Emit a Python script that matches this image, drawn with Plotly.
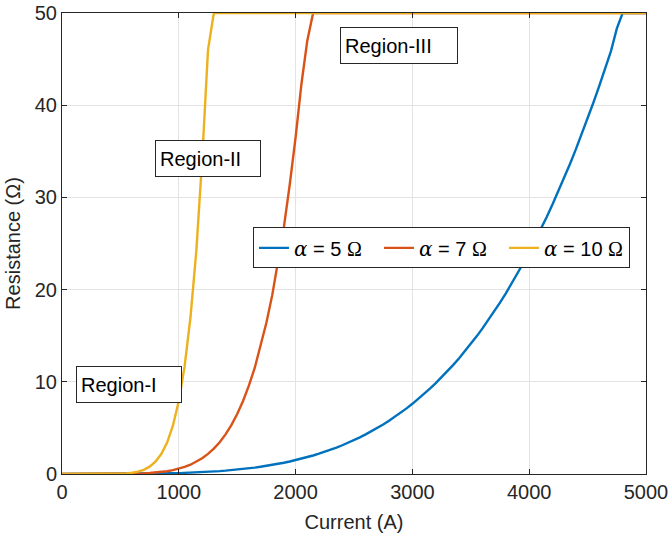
import plotly.graph_objects as go

# Current samples (A), every 50 A from 0 to 5000
current = list(range(0, 5001, 50))

# Resistance (Ohm), one value per current sample
r_alpha5 = [
    0, 0, 0, 0, 0.0002, 0.0004, 0.0008, 0.0014, 0.0024, 0.0039,
    0.0059, 0.0086, 0.0122, 0.0168, 0.0226, 0.0297, 0.0385, 0.0491, 0.0617, 0.0766,
    0.094, 0.114, 0.138, 0.164, 0.195, 0.230, 0.268, 0.312, 0.361, 0.416,
    0.476, 0.543, 0.616, 0.697, 0.785, 0.882, 0.987, 1.101, 1.225, 1.359,
    1.504, 1.660, 1.828, 2.009, 2.202, 2.409, 2.631, 2.867, 3.119, 3.387,
    3.672, 3.975, 4.295, 4.635, 4.995, 5.376, 5.778, 6.202, 6.649, 7.118,
    7.614, 8.134, 8.681, 9.255, 9.857, 10.488, 11.147, 11.838, 12.561, 13.317,
    14.106, 14.930, 15.789, 16.683, 17.616, 18.588, 19.600, 20.653, 21.747, 22.885,
    24.062, 25.289, 26.562, 27.882, 29.251, 30.669, 32.140, 33.655, 35.231, 36.861,
    38.547, 40.290, 42.090, 43.952, 45.867, 48.3, 50, 50, 50, 50,
    50]
r_alpha7 = [
    0, 0, 0, 0, 0, 0.0001, 0.0004, 0.0010, 0.0024, 0.0048,
    0.0089, 0.0159, 0.0266, 0.0432, 0.0671, 0.1016, 0.150, 0.215, 0.303, 0.419,
    0.57, 0.765, 1.01, 1.32, 1.70, 2.18, 2.75, 3.45, 4.30, 5.30,
    6.50, 7.92, 9.58, 11.5, 13.8, 16.4, 19.4, 22.9, 26.8, 31.4,
    36.5, 42.3, 47.0, 50, 50, 50, 50, 50, 50, 50,
    50, 50, 50, 50, 50, 50, 50, 50, 50, 50,
    50, 50, 50, 50, 50, 50, 50, 50, 50, 50,
    50, 50, 50, 50, 50, 50, 50, 50, 50, 50,
    50, 50, 50, 50, 50, 50, 50, 50, 50, 50,
    50, 50, 50, 50, 50, 50, 50, 50, 50, 50,
    50]
r_alpha10 = [
    0, 0, 0, 0, 0, 0.0001, 0.0005, 0.0018, 0.0052, 0.0133,
    0.031, 0.0664, 0.133, 0.253, 0.457, 0.794, 1.33, 2.16, 3.41, 5.26,
    7.92, 11.7, 17.0, 24.2, 34.1, 46.0, 50, 50, 50, 50,
    50, 50, 50, 50, 50, 50, 50, 50, 50, 50,
    50, 50, 50, 50, 50, 50, 50, 50, 50, 50,
    50, 50, 50, 50, 50, 50, 50, 50, 50, 50,
    50, 50, 50, 50, 50, 50, 50, 50, 50, 50,
    50, 50, 50, 50, 50, 50, 50, 50, 50, 50,
    50, 50, 50, 50, 50, 50, 50, 50, 50, 50,
    50, 50, 50, 50, 50, 50, 50, 50, 50, 50,
    50]

series_names = ["5", "7", "10"]
series_vals = [r_alpha5, r_alpha7, r_alpha10]
colors = ["#0072BD", "#D95319", "#EDB120"]

region_labels = ["Region-I", "Region-II", "Region-III"]
region_x = [575, 1249, 2888]
region_y = [9.73, 34.2, 46.5]

FONT = "Liberation Sans, Arial, Helvetica, sans-serif"
AX = "#262626"
FS = 20

fig = go.Figure()
for name, vals, col in zip(series_names, series_vals, colors):
    label = ('<span style="font-family:DejaVu Serif"><i>α</i></span> = ' + name +
             ' <span style="font-family:Liberation Serif">Ω</span>')
    fig.add_trace(go.Scatter(x=current, y=vals, mode="lines", name=label,
                             line=dict(color=col, width=2.4)))

for txt, xv, yv in zip(region_labels, region_x, region_y):
    fig.add_annotation(x=xv, y=yv, xref="x", yref="y", text=txt, showarrow=False,
                       align="left", width=96 if txt != "Region-III" else 108,
                       height=27, borderpad=4, borderwidth=1, bordercolor="#262626",
                       bgcolor="white", font=dict(family=FONT, size=FS, color="black"))

axis_common = dict(showline=True, mirror="ticks", ticks="inside", ticklen=5,
                   linecolor=AX, linewidth=1, tickcolor=AX, showgrid=True,
                   gridcolor="#e3e3e3", gridwidth=1, zeroline=False, automargin=False,
                   tickfont=dict(family=FONT, size=FS, color=AX))

fig.update_xaxes(range=[0, 5000], dtick=1000, tick0=0,
                 title=dict(text="Current (A)", font=dict(family=FONT, size=FS, color=AX),
                            standoff=12), **axis_common)
fig.update_yaxes(range=[0, 50], dtick=10, tick0=0,
                 title=dict(text="Resistance (Ω)", font=dict(family=FONT, size=FS, color=AX),
                            standoff=8), **axis_common)

fig.update_layout(
    width=669, height=540,
    margin=dict(l=62, r=23, t=13, b=66),
    paper_bgcolor="white", plot_bgcolor="white",
    showlegend=True,
    legend=dict(orientation="h", x=0.327, y=0.535, xanchor="left", yanchor="top",
                bgcolor="white", bordercolor=AX, borderwidth=1,
                font=dict(family=FONT, size=FS, color="black"),
                entrywidth=80, entrywidthmode="pixels",
                itemwidth=30, tracegroupgap=0),
)

fig.write_html("out.html")
